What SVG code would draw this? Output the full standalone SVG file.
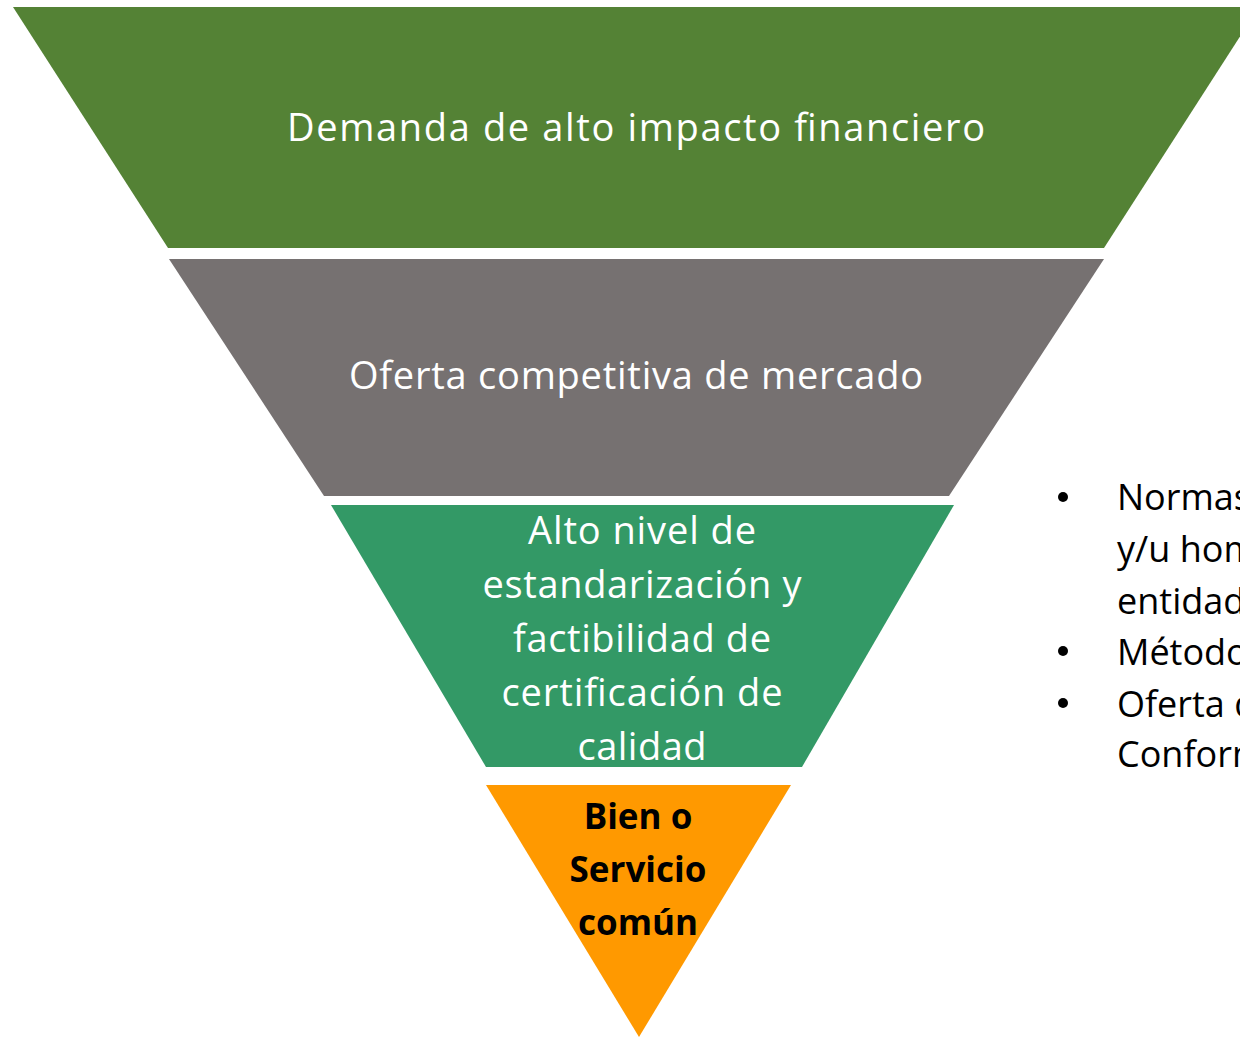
<svg xmlns="http://www.w3.org/2000/svg" width="1240" height="1037" viewBox="0 0 1240 1037">
<style>
.w{fill:#ffffff;font-family:"Open Sans","Noto Sans",sans-serif;font-size:38px;text-anchor:middle}
.b{fill:#000000;font-family:"Open Sans","Noto Sans",sans-serif;font-size:35px;font-weight:bold;text-anchor:middle}
.r{fill:#000000;font-family:"Open Sans","Noto Sans",sans-serif;font-size:36px}
</style>
<rect width="1240" height="1037" fill="#ffffff"/>
<g id="level1">
<polygon points="13,7 1259,7 1104,248 168,248" fill="#548235"/>
<text class="w" x="636" y="141" textLength="698" lengthAdjust="spacing">Demanda de alto impacto financiero</text>
</g>
<g id="level2">
<polygon points="169,259 1104,259 949,496 324,496" fill="#767171"/>
<text class="w" x="636" y="389" textLength="574" lengthAdjust="spacing">Oferta competitiva de mercado</text>
</g>
<g id="level3">
<polygon points="331,505 954,505 802,767 486,767" fill="#339966"/>
<text class="w" x="642" y="544" textLength="228" lengthAdjust="spacing">Alto nivel de</text>
<text class="w" x="642" y="598" textLength="319" lengthAdjust="spacing">estandarización y</text>
<text class="w" x="642" y="652" textLength="258" lengthAdjust="spacing">factibilidad de</text>
<text class="w" x="642" y="706" textLength="281" lengthAdjust="spacing">certificación de</text>
<text class="w" x="642" y="760" textLength="129" lengthAdjust="spacing">calidad</text>
</g>
<g id="level4">
<polygon points="486,785 791,785 639,1037" fill="#ff9900"/>
<text class="b" x="638" y="829">Bien o</text>
<text class="b" x="638" y="882">Servicio</text>
<text class="b" x="638" y="935">común</text>
</g>
<g id="notes">
<circle cx="1063" cy="497" r="5" fill="#000"/>
<circle cx="1063" cy="651" r="5" fill="#000"/>
<circle cx="1063" cy="703" r="5" fill="#000"/>
<text class="r" x="1117" y="510">Normas</text>
<text class="r" x="1117" y="562">y/u hom</text>
<text class="r" x="1117" y="614">entidad</text>
<text class="r" x="1117" y="665">Método</text>
<text class="r" x="1117" y="717">Oferta d</text>
<text class="r" x="1117" y="767">Conform</text>
</g>
<g id="connectors"/>
</svg>
